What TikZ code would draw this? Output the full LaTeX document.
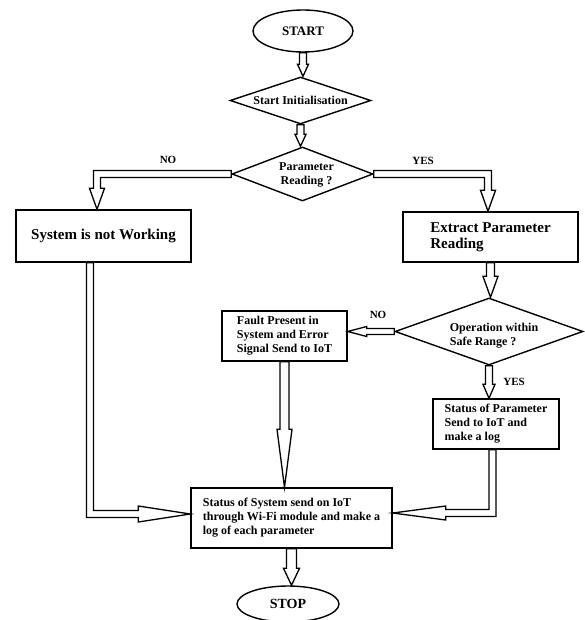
\documentclass[tikz,border=0pt]{standalone}
\usepackage{fontspec}
\setmainfont{Liberation Serif}
\usetikzlibrary{shapes.geometric,calc}
\tikzset{
  base/.style={draw, line width=1.4pt, font=\bfseries\fontsize{12}{14}\selectfont, inner sep=0pt},
  term/.style={base, ellipse},
  dec/.style={base, diamond},
  dtext/.style={font=\bfseries\fontsize{12}{14}\selectfont, inner sep=0pt},
  box/.style={base, rectangle, align=left},
  bigbox/.style={box, font=\bfseries\fontsize{15}{16}\selectfont},
  harrow/.style={draw, line width=1.3pt, fill=white, line join=miter},
  lab/.style={font=\bfseries\fontsize{11}{12}\selectfont, inner sep=0pt}
}
% straight down arrow: from, to, head length, shaft half width, head half width
\newcommand\dnarrow[5]{\draw[harrow] let \p1=(#1), \p2=(#2) in
  (\x1-#4,\y1) -- (\x1-#4,\y2+#3) -- (\x1-#5,\y2+#3) -- (\x1,\y2) -- (\x1+#5,\y2+#3) -- (\x1+#4,\y2+#3) -- (\x1+#4,\y1) -- cycle;}
% straight left arrow
\newcommand\lfarrow[5]{\draw[harrow] let \p1=(#1), \p2=(#2) in
  (\x1,\y1+#4) -- (\x2+#3,\y1+#4) -- (\x2+#3,\y1+#5) -- (\x2,\y1) -- (\x2+#3,\y1-#5) -- (\x2+#3,\y1-#4) -- (\x1,\y1-#4) -- cycle;}
% left then down
\newcommand\lfdnarrow[5]{\draw[harrow] let \p1=(#1), \p2=(#2) in
  (\x1,\y1+#4) -- (\x2-#4,\y1+#4) -- (\x2-#4,\y2+#3) -- (\x2-#5,\y2+#3) -- (\x2,\y2) -- (\x2+#5,\y2+#3) -- (\x2+#4,\y2+#3) -- (\x2+#4,\y1-#4) -- (\x1,\y1-#4) -- cycle;}
% right then down
\newcommand\rtdnarrow[5]{\draw[harrow] let \p1=(#1), \p2=(#2) in
  (\x1,\y1+#4) -- (\x2+#4,\y1+#4) -- (\x2+#4,\y2+#3) -- (\x2+#5,\y2+#3) -- (\x2,\y2) -- (\x2-#5,\y2+#3) -- (\x2-#4,\y2+#3) -- (\x2-#4,\y1-#4) -- (\x1,\y1-#4) -- cycle;}
% down then right
\newcommand\dnrtarrow[5]{\draw[harrow] let \p1=(#1), \p2=(#2) in
  (\x1-#4,\y1) -- (\x1-#4,\y2-#4) -- (\x2-#3,\y2-#4) -- (\x2-#3,\y2-#5) -- (\x2,\y2) -- (\x2-#3,\y2+#5) -- (\x2-#3,\y2+#4) -- (\x1+#4,\y2+#4) -- (\x1+#4,\y1) -- cycle;}
% down then left
\newcommand\dnlfarrow[5]{\draw[harrow] let \p1=(#1), \p2=(#2) in
  (\x1+#4,\y1) -- (\x1+#4,\y2-#4) -- (\x2+#3,\y2-#4) -- (\x2+#3,\y2-#5) -- (\x2,\y2) -- (\x2+#3,\y2+#5) -- (\x2+#3,\y2+#4) -- (\x1-#4,\y2+#4) -- (\x1-#4,\y1) -- cycle;}
\begin{document}
\begin{tikzpicture}[x=1pt,y=-1pt]
\useasboundingbox (0,0) rectangle (585,620);
\node[term, minimum width=100, minimum height=42, font=\bfseries\fontsize{13}{14}\selectfont] (start) at (303,31) {START};
\node[dec, minimum width=141, minimum height=47] (init) at (300.5,100.5) {};
\node[dtext] (initt) at (init.center) {Start Initialisation};
\node[dec, minimum width=141, minimum height=54] (param) at (302.5,174) {};
\node[dtext, align=center] (paramt) at ($(param.center)+(4,1)$) {Parameter\\Reading ?};
\node[bigbox, minimum width=175, minimum height=52] (notwork) at (103.5,236) {System is not Working};
\node[bigbox, minimum width=175, minimum height=50] (extract) at (490.5,237) {Extract Parameter\\Reading};
\node[dec, minimum width=188, minimum height=67] (oper) at (489,331.5) {};
\node[dtext, align=left] (opert) at ($(oper.center)+(5,4)$) {Operation within\\Safe Range ?};
\node[box, minimum width=125, minimum height=50] (fault) at (284.5,336) {Fault Present in\\System and Error\\Signal Send to IoT};
\node[box, minimum width=126, minimum height=50] (statparam) at (496,424) {Status of Parameter\\Send to IoT and\\make a log};
\node[box, minimum width=201, minimum height=60] (status) at (291.5,518) {Status of System send on IoT\\through Wi-Fi module and make a\\log of each parameter};
\node[term, minimum width=102, minimum height=36, font=\bfseries\fontsize{14}{15}\selectfont] (stop) at (288,604) {STOP};

\node[lab] (no1) at (168,160) {NO};
\node[lab] (yes1) at (423,161) {YES};
\node[lab] (no2) at (378,315) {NO};
\node[lab] (yes2) at (514,382) {YES};

\dnarrow{start.south}{init.north}{12}{3.5}{5.5}
\dnarrow{init.south}{param.north}{12}{3.5}{5.5}
\lfdnarrow{param.west}{$(notwork.north)+(-6.5,0)$}{21}{3.5}{7.5}
\rtdnarrow{param.east}{$(extract.north)+(-2.5,0)$}{21}{3.5}{7.5}
\dnarrow{extract.south}{oper.north}{21}{4}{7.5}
\lfarrow{oper.west}{fault.east}{19}{3}{5}
\dnarrow{oper.south}{statparam.north}{14}{3.5}{6}
\dnarrow{fault.south}{status.north}{58}{4.5}{7.5}
\dnrtarrow{$(notwork.south)+(-13.5,0)$}{$(status.west)+(0,-4)$}{52}{3.5}{8}
\dnlfarrow{$(statparam.south)+(-3.5,0)$}{$(status.east)+(0,-5)$}{53}{3.5}{7}
\dnarrow{status.south}{stop.north}{17}{5}{8}
\end{tikzpicture}
\end{document}
